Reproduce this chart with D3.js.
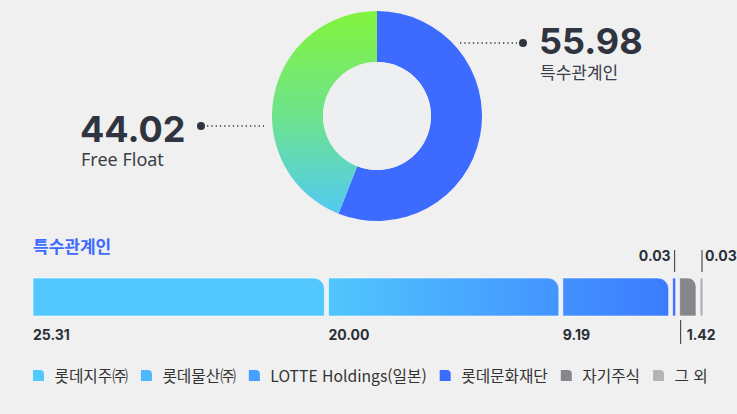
<!DOCTYPE html>
<html lang="ko">
<head>
<meta charset="utf-8">
<script src="https://cdn.jsdelivr.net/npm/d3@7"></script>
<style>
  html, body { margin: 0; padding: 0; background: #f0f0f0; }
  svg { display: block; }
</style>
</head>
<body>
<svg id="chart" width="737" height="414"></svg>
<script>
// Ownership split (donut)
const donutLabels = ["특수관계인", "Free Float"];
const donutValues = [55.98, 44.02];

// Breakdown of the related-party stake (stacked bar)
const sectionTitle = "특수관계인";
const holders = ["롯데지주㈜", "롯데물산㈜", "LOTTE Holdings(일본)", "롯데문화재단", "자기주식", "그 외"];
const holderValues = [25.31, 20.00, 9.19, 0.03, 1.42, 0.03];
const holderColors = ["#52c8ff", "#4db8ff", "#46a0ff", "#3d6bff", "#85878c", "#b3b4b8"];

const W = 737, H = 414;
const svg = d3.select("#chart");
const defs = svg.append("defs");
const numFont = "Inter, 'Noto Sans', sans-serif";
const krFont = "'Noto Sans CJK KR', 'Noto Sans', sans-serif";
const ink = "#2f3440";

svg.append("rect").attr("width", W).attr("height", H).attr("fill", "#f0f0f0");

// ---------- Donut ----------
const cx = 377, cy = 116, rOuter = 105, rInner = 54;

// gradient coordinates are local to the donut group (centred on 0,0)
const green = defs.append("linearGradient")
  .attr("id", "gFree").attr("gradientUnits", "userSpaceOnUse")
  .attr("x1", 0).attr("y1", -rOuter).attr("x2", 0).attr("y2", rOuter);
green.append("stop").attr("offset", 0).attr("stop-color", "#82f43c");
green.append("stop").attr("offset", 0.5).attr("stop-color", "#6ee38c");
green.append("stop").attr("offset", 1).attr("stop-color", "#50c8fa");

const pie = d3.pie().sort(null).value(d => d)(donutValues);
const arc = d3.arc().innerRadius(rInner).outerRadius(rOuter);
const donut = svg.append("g").attr("transform", `translate(${cx},${cy})`);
donut.selectAll("path").data(pie).join("path")
  .attr("d", arc)
  .attr("fill", (d, i) => i === 0 ? "#3d6bff" : "url(#gFree)");
donut.append("circle").attr("r", rInner).attr("fill", "#eeeff1");

// Callout leader: dotted line ending in a dot
function callout(lineX1, lineX2, dotX, y) {
  svg.append("line").attr("x1", lineX1).attr("x2", lineX2).attr("y1", y).attr("y2", y)
    .attr("stroke", ink).attr("stroke-width", 1.6)
    .attr("stroke-dasharray", "1.3,3").attr("stroke-linecap", "butt");
  svg.append("circle").attr("cx", dotX).attr("cy", y).attr("r", 4).attr("fill", ink);
}
// 55.98 (right side)
callout(460, 517, 523, 43);
svg.append("text").attr("x", 539).attr("y", 54)
  .attr("font-family", numFont).attr("font-weight", 700).attr("font-size", 36)
  .attr("fill", ink).text(donutValues[0].toFixed(2));
svg.append("text").attr("x", 540).attr("y", 79)
  .attr("font-family", krFont).attr("font-size", 17).attr("fill", "#3a3e48")
  .text(donutLabels[0]);
// 44.02 (left side)
callout(207, 264, 201, 126);
svg.append("text").attr("x", 80).attr("y", 141.5)
  .attr("font-family", numFont).attr("font-weight", 700).attr("font-size", 36)
  .attr("fill", ink).text(donutValues[1].toFixed(2));
svg.append("text").attr("x", 81).attr("y", 166)
  .attr("font-family", "'Noto Sans', sans-serif").attr("font-size", 18).attr("fill", "#3a3e48")
  .text(donutLabels[1]);

// ---------- Stacked bar ----------
svg.append("text").attr("x", 33).attr("y", 253)
  .attr("font-family", krFont).attr("font-weight", 700).attr("font-size", 17)
  .attr("fill", "#3d6bff").text(sectionTitle);

const barX0 = 33, barX1 = 703, barY = 278, barH = 38, gap = 4, minW = 3;
const n = holderValues.length;
// widths that would fall below the minimum are drawn at minW; the rest share the remaining space
const tiny = holderValues.map(v => v < 0.5);
const spaceForRest = (barX1 - barX0) - gap * (n - 1) - minW * tiny.filter(Boolean).length;
const x = d3.scaleLinear()
  .domain([0, d3.sum(holderValues.filter((v, i) => !tiny[i]))])
  .range([0, spaceForRest]);

let cursor = barX0;
const bars = holderValues.map((v, i) => {
  const w = tiny[i] ? minW : x(v);
  const b = { i, v, x: cursor, w };
  cursor += w + gap;
  return b;
});

// horizontal gradient stops per segment (left colour, right colour)
const barStops = [
  ["#52c8ff", "#52c8ff"],
  ["#50c6fd", "#4394ff"],
  ["#4291ff", "#3c7bff"],
  ["#3d6bff", "#3d6bff"],
  ["#85878c", "#85878c"],
  ["#b3b4b8", "#b3b4b8"]
];
bars.forEach((b, i) => {
  const g = defs.append("linearGradient").attr("id", "bar" + i)
    .attr("x1", 0).attr("x2", 1).attr("y1", 0).attr("y2", 0);
  g.append("stop").attr("offset", 0).attr("stop-color", barStops[i][0]);
  g.append("stop").attr("offset", 1).attr("stop-color", barStops[i][1]);
});

function topRightRounded(x0, y0, w, h, r) {
  r = Math.min(r, w / 2, h);
  const p = d3.path();
  p.moveTo(x0, y0);
  p.lineTo(x0 + w - r, y0);
  p.arcTo(x0 + w, y0, x0 + w, y0 + r, r);
  p.lineTo(x0 + w, y0 + h);
  p.lineTo(x0, y0 + h);
  p.closePath();
  return p.toString();
}

svg.append("g").selectAll("path").data(bars).join("path")
  .attr("d", b => topRightRounded(b.x, barY, b.w, barH, b.w > 8 ? 11 : 0))
  .attr("fill", b => `url(#bar${b.i})`)
  .attr("stroke", "rgba(255,255,255,0.55)").attr("stroke-width", 1);

// value labels
const labelG = svg.append("g").attr("font-family", numFont).attr("font-weight", 700)
  .attr("font-size", 14).attr("fill", "#2b2f38");
bars.forEach(b => {
  const txt = b.v.toFixed(2);
  if (!tiny[b.i] && b.v >= 5) {
    labelG.append("text").attr("x", b.x).attr("y", 340).text(txt);
  } else if (!tiny[b.i]) {
    const tx = b.x + 1;
    labelG.append("line").attr("x1", tx).attr("x2", tx).attr("y1", 320).attr("y2", 344)
      .attr("stroke", "#333").attr("stroke-width", 1);
    labelG.append("text").attr("x", tx + 6).attr("y", 340).text(txt);
  } else {
    const tx = b.x + b.w / 2 + 0.5;
    const last = b.i === n - 1;
    labelG.append("line").attr("x1", tx).attr("x2", tx).attr("y1", 250).attr("y2", 272)
      .attr("stroke", "#333").attr("stroke-width", 1);
    labelG.append("text").attr("x", last ? tx + 3 : tx - 4).attr("y", 261)
      .attr("text-anchor", last ? "start" : "end").text(txt);
  }
});

// ---------- Legend ----------
const legend = svg.append("g").attr("font-family", krFont).attr("font-size", 15.7).attr("fill", "#333");
let lx = 33;
holders.forEach((name, i) => {
  legend.append("path").attr("d", topRightRounded(lx, 370, 11, 11, 4)).attr("fill", holderColors[i]);
  const t = legend.append("text").attr("x", lx + 21.5).attr("y", 382).text(name);
  lx += 21.5 + t.node().getComputedTextLength() + 13;
});
</script>
</body>
</html>
